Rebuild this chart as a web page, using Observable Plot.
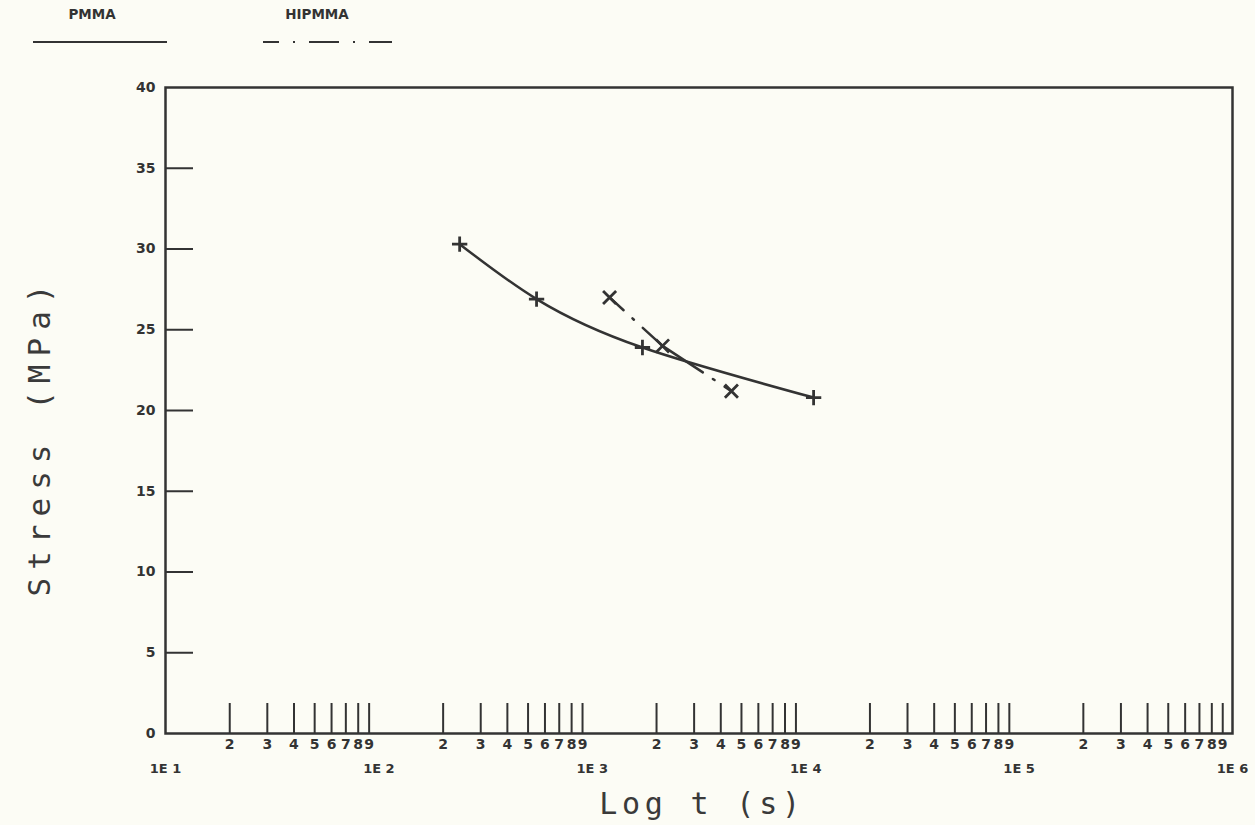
<!DOCTYPE html>
<html>
<head>
<meta charset="utf-8">
<script src="https://cdn.jsdelivr.net/npm/d3@7"></script>
<script src="https://cdn.jsdelivr.net/npm/@observablehq/plot@0.6"></script>
<style>
  html, body { margin: 0; padding: 0; background: #fcfcf5; }
  #wrap { position: relative; width: 1255px; height: 825px; overflow: hidden; }
  #chart { position: absolute; left: 0; top: 0; }
  #legend { position: absolute; left: 0; top: 0; }
  [aria-label="x-title"], [aria-label="x-title"] text { letter-spacing: 4.8px; }
  [aria-label="y-title"], [aria-label="y-title"] text { letter-spacing: 8px; }
</style>
</head>
<body>
<div id="wrap">
  <div id="chart"></div>
  <div id="legend"></div>
</div>
<script>
// ---- data ----
const seriesNames = ["PMMA", "HIPMMA"];
const pmmaTime = [239, 548, 1718, 10890];
const pmmaStress = [30.3, 26.9, 23.9, 20.8];
const hipmmaTime = [1205, 2133, 4487];
const hipmmaStress = [27.0, 24.0, 21.2];

const yTickValues = [0, 5, 10, 15, 20, 25, 30, 35, 40];
const yInnerTicks = [5, 10, 15, 20, 25, 30, 35];
const decades = [10, 100, 1000, 10000, 100000, 1000000];
const decadeLabels = ["1E 1", "1E 2", "1E 3", "1E 4", "1E 5", "1E 6"];
const minorMultipliers = [2, 3, 4, 5, 6, 7, 8, 9];
const xTitle = "Log t (s)";
const yTitle = "Stress (MPa)";

// ---- derived tables ----
const pmma = pmmaTime.map((t, i) => ({t, s: pmmaStress[i]}));
const hipmma = hipmmaTime.map((t, i) => ({t, s: hipmmaStress[i]}));
const minorTicks = decades.slice(0, -1).flatMap(d => minorMultipliers.map(m => ({x: m * d, label: String(m)})));
const decadeTicks = decades.map((d, i) => ({x: d, label: decadeLabels[i]}));

const ink = "#333";
const labelFont = "DejaVu Sans, sans-serif";
const titleFont = "DejaVu Sans Mono, monospace";

const chart = Plot.plot({
  width: 1255,
  height: 825,
  marginLeft: 165,
  marginRight: 23,
  marginTop: 87,
  marginBottom: 92,
  style: {background: "transparent", color: ink},
  x: {type: "log", domain: [10, 1e6], axis: null},
  y: {domain: [0, 40], axis: null},
  marks: [
    Plot.frame({stroke: ink, strokeWidth: 2.5}),
    Plot.ruleX(minorTicks, {x: "x", y1: 0, y2: 0, insetTop: -30, stroke: ink, strokeWidth: 2}),
    Plot.ruleY(yInnerTicks, {y: d => d, x1: 10, x2: 10, insetRight: -28, stroke: ink, strokeWidth: 2}),
    Plot.text(yTickValues, {y: d => d, text: d => String(d), frameAnchor: "left", textAnchor: "end", dx: -10, fontSize: 14, fontWeight: "bold", fontFamily: labelFont, fill: ink}),
    Plot.text(minorTicks, {x: "x", text: "label", frameAnchor: "bottom", textAnchor: "middle", dy: 15, fontSize: 14, fontWeight: "bold", fontFamily: labelFont, fill: ink}),
    Plot.text(decadeTicks, {x: "x", text: "label", frameAnchor: "bottom", textAnchor: "middle", dy: 39, fontSize: 13, fontWeight: "bold", fontFamily: labelFont, fill: ink}),
    Plot.line(pmma, {x: "t", y: "s", curve: "natural", stroke: ink, strokeWidth: 2.5}),
    Plot.dot(pmma, {x: "t", y: "s", symbol: "plus", r: 5, stroke: ink, strokeWidth: 2.8}),
    Plot.line(hipmma, {x: "t", y: "s", stroke: ink, strokeWidth: 2.5, strokeDasharray: "75,12,2,12", strokeDashoffset: 56}),
    Plot.dot(hipmma, {x: "t", y: "s", symbol: "times", r: 6, stroke: ink, strokeWidth: 2.8}),
    Plot.text([xTitle], {frameAnchor: "bottom", textAnchor: "middle", dx: 3, dy: 80, lineAnchor: "bottom", fontSize: 30, fontFamily: titleFont, fill: "#3a3a3a", ariaLabel: () => "x-title"}),
    Plot.text([yTitle], {frameAnchor: "left", textAnchor: "middle", rotate: -90, dx: -125, dy: 26, fontSize: 31, fontFamily: titleFont, fill: "#3a3a3a", ariaLabel: () => "y-title"})
  ]
});
document.getElementById("chart").appendChild(chart);

// ---- legend (top-left) ----
const legendSvg = d3.select("#legend").append("svg").attr("width", 420).attr("height", 60);
const legendItems = [
  {name: seriesNames[0], cx: 92, x1: 33, x2: 167, dash: null, offset: 0},
  {name: seriesNames[1], cx: 317, x1: 263, x2: 392, dash: "30,14,2,14", offset: 14}
];
const lg = legendSvg.selectAll("g").data(legendItems).join("g");
lg.append("text")
  .attr("x", d => d.cx).attr("y", 19)
  .attr("text-anchor", "middle")
  .attr("font-family", labelFont).attr("font-weight", "bold").attr("font-size", 13.5)
  .attr("fill", ink)
  .text(d => d.name);
lg.append("line")
  .attr("x1", d => d.x1).attr("x2", d => d.x2).attr("y1", 42).attr("y2", 42)
  .attr("stroke", ink).attr("stroke-width", 2)
  .attr("stroke-dasharray", d => d.dash)
  .attr("stroke-dashoffset", d => d.offset);
</script>
</body>
</html>
